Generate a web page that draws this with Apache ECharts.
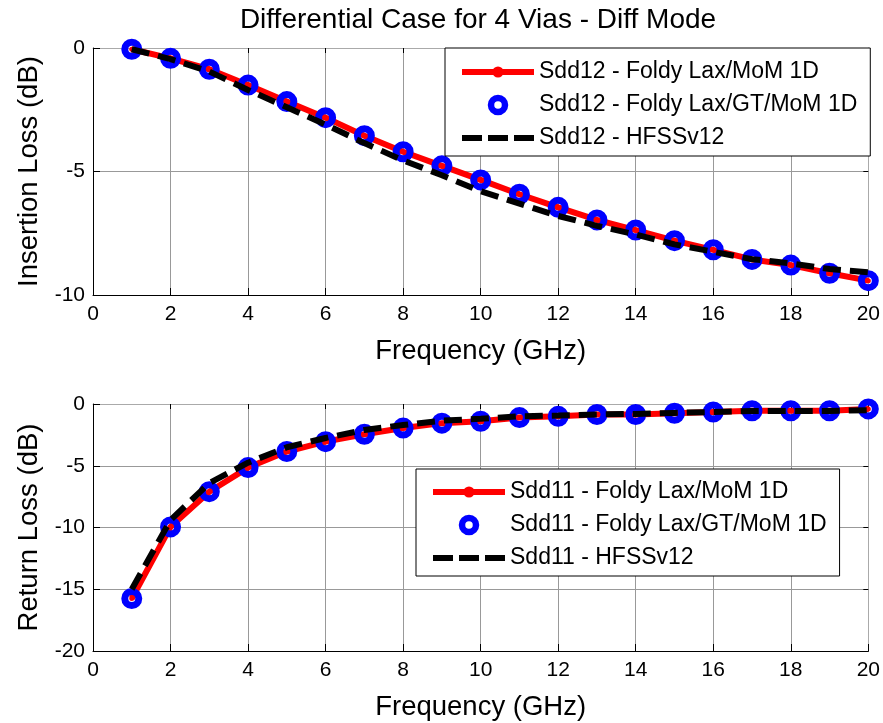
<!DOCTYPE html>
<html>
<head>
<meta charset="utf-8">
<script src="https://cdn.jsdelivr.net/npm/echarts@6/dist/echarts.min.js"></script>
<style>
html,body{margin:0;padding:0;background:#fff;}
#c{width:883px;height:723px;}
</style>
</head>
<body>
<div id="c"></div>
<script>
const freq = [1,2,3,4,5,6,7,8,9,10,11,12,13,14,15,16,17,18,19,20];
const sdd12FL   = [-0.05,-0.42,-0.86,-1.50,-2.17,-2.82,-3.55,-4.20,-4.77,-5.34,-5.92,-6.45,-6.96,-7.37,-7.80,-8.17,-8.56,-8.79,-9.12,-9.42];
const sdd12GT   = [-0.05,-0.42,-0.86,-1.50,-2.17,-2.82,-3.55,-4.20,-4.77,-5.34,-5.92,-6.45,-6.96,-7.37,-7.80,-8.17,-8.56,-8.79,-9.12,-9.42];
const sdd12HFSS = [-0.05,-0.45,-0.95,-1.70,-2.40,-3.10,-3.85,-4.55,-5.15,-5.80,-6.30,-6.80,-7.20,-7.55,-7.95,-8.25,-8.55,-8.72,-8.95,-9.08];
const sdd11FL   = [-15.75,-9.95,-7.10,-5.15,-3.85,-3.05,-2.45,-1.95,-1.55,-1.40,-1.10,-1.00,-0.85,-0.85,-0.75,-0.65,-0.55,-0.55,-0.55,-0.40];
const sdd11GT   = [-15.75,-9.95,-7.10,-5.15,-3.85,-3.05,-2.45,-1.95,-1.55,-1.40,-1.10,-1.00,-0.85,-0.85,-0.75,-0.65,-0.55,-0.55,-0.55,-0.40];
const sdd11HFSS = [-15.00,-9.40,-6.40,-4.75,-3.50,-2.75,-2.10,-1.70,-1.35,-1.20,-1.00,-0.93,-0.85,-0.80,-0.72,-0.65,-0.57,-0.57,-0.57,-0.50];
const namesTop = ['Sdd12 - Foldy Lax/MoM 1D','Sdd12 - Foldy Lax/GT/MoM 1D','Sdd12 - HFSSv12'];
const namesBot = ['Sdd11 - Foldy Lax/MoM 1D','Sdd11 - Foldy Lax/GT/MoM 1D','Sdd11 - HFSSv12'];
const titleText = 'Differential Case for 4 Vias - Diff Mode';
const xName = 'Frequency (GHz)';
const yNameTop = 'Insertion Loss (dB)';
const yNameBot = 'Return Loss (dB)';

const FONT = 'Liberation Sans, Arial, sans-serif';
function pairs(ys){ return freq.map((f,i)=>[f, ys[i]]); }

function mainX(grid){
  return {gridIndex:grid,type:'value',min:0,max:20,interval:2,position:'bottom',
    name:xName,nameLocation:'middle',nameGap:42,
    nameTextStyle:{fontFamily:FONT,fontSize:27.5,color:'#000'},
    axisLine:{show:true,onZero:false,lineStyle:{color:'#000',width:1}},
    axisTick:{show:true,inside:true,length:7,lineStyle:{color:'#000'}},
    axisLabel:{fontFamily:FONT,fontSize:21,color:'#000',margin:9},
    splitLine:{show:true,lineStyle:{color:'#999',width:1}}};
}
function topX(grid){
  return {gridIndex:grid,type:'value',min:0,max:20,interval:2,position:'top',
    axisLine:{show:true,onZero:false,lineStyle:{color:'#aaa',width:1}},
    axisTick:{show:true,inside:true,length:5,lineStyle:{color:'#000'}},
    axisLabel:{show:false},splitLine:{show:false}};
}
function mainY(grid,min,name){
  return {gridIndex:grid,type:'value',min:min,max:0,interval:5,position:'left',
    name:name,nameLocation:'middle',nameGap:47,
    nameTextStyle:{fontFamily:FONT,fontSize:27.5,color:'#000'},
    axisLine:{show:true,onZero:false,lineStyle:{color:'#000',width:1}},
    axisTick:{show:true,inside:true,length:7,lineStyle:{color:'#000'}},
    axisLabel:{fontFamily:FONT,fontSize:21,color:'#000',margin:8},
    splitLine:{show:true,lineStyle:{color:'#999',width:1}}};
}
function rightY(grid,min){
  return {gridIndex:grid,type:'value',min:min,max:0,interval:5,position:'right',
    axisLine:{show:true,onZero:false,lineStyle:{color:'#aaa',width:1}},
    axisTick:{show:true,inside:true,length:5,lineStyle:{color:'#000'}},
    axisLabel:{show:false},splitLine:{show:false}};
}
function seriesSet(names,fl,gt,hf,xi,yi){
  return [
    {name:names[0],type:'line',xAxisIndex:xi,yAxisIndex:yi,data:pairs(fl),
     lineStyle:{color:'#ff0000',width:6},itemStyle:{color:'#ff0000'},
     symbol:'circle',symbolSize:5,z:2},
    {name:names[1],type:'scatter',xAxisIndex:xi,yAxisIndex:yi,data:pairs(gt),
     symbol:'circle',symbolSize:14,
     itemStyle:{color:'rgba(0,0,0,0)',borderColor:'#0000ff',borderWidth:7,opacity:1},z:3},
    {name:names[2],type:'line',xAxisIndex:xi,yAxisIndex:yi,data:pairs(hf),
     lineStyle:{color:'#000',width:6,type:[18,9]},itemStyle:{color:'#000'},
     symbol:'none',z:4}
  ];
}
function legendData(names){
  return [
    {name:names[0],itemStyle:{color:'#ff0000',opacity:1,borderWidth:0},lineStyle:{color:'#ff0000',width:6,type:'solid'}},
    {name:names[1],itemStyle:{color:'#fff',borderColor:'#0000ff',borderWidth:6.5,opacity:1}},
    {name:names[2],itemStyle:{opacity:0},lineStyle:{color:'#000',width:6,type:[20,6]}}
  ];
}
function legendCfg(names,left,top,pad){
  return {data:legendData(names),orient:'vertical',left:left,top:top,
    padding:pad,itemWidth:72,itemHeight:14,itemGap:7,
    backgroundColor:'#fff',borderColor:'#000',borderWidth:1,borderRadius:0,
    selectedMode:false,
    textStyle:{fontFamily:FONT,fontSize:23,color:'#000',lineHeight:26}};
}

const chart = echarts.init(document.getElementById('c'),null,{renderer:'canvas'});
chart.setOption({
  animation:false,
  backgroundColor:'#fff',
  title:{text:titleText,left:478,top:6,textAlign:'center',padding:0,
    textStyle:{fontFamily:FONT,fontSize:28,fontWeight:'normal',color:'#000'}},
  grid:[
    {left:93,right:13,top:48,height:247,show:false},
    {left:93,right:13,top:404,height:247,show:false}
  ],
  xAxis:[mainX(0),topX(0),mainX(1),topX(1)],
  yAxis:[mainY(0,-10,yNameTop),rightY(0,-10),mainY(1,-20,yNameBot),rightY(1,-20)],
  legend:[
    legendCfg(namesTop,445,48,[11,13,5,14]),
    legendCfg(namesBot,416,469,[10,13,5,14])
  ],
  series:[].concat(
    seriesSet(namesTop,sdd12FL,sdd12GT,sdd12HFSS,0,0),
    seriesSet(namesBot,sdd11FL,sdd11GT,sdd11HFSS,2,2)
  )
});
</script>
</body>
</html>
